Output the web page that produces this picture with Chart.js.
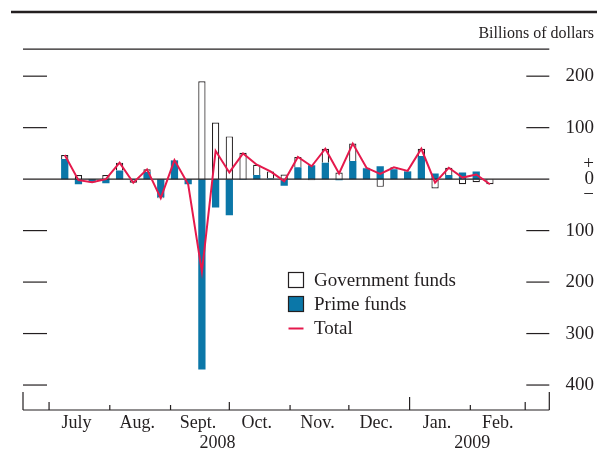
<!DOCTYPE html>
<html>
<head>
<meta charset="utf-8">
<script src="https://cdn.jsdelivr.net/npm/chart.js@4.4.1/dist/chart.umd.min.js"></script>
<style>
  html, body { margin:0; padding:0; background:#fff; }
  #wrap { width:597px; height:454px; position:relative; }
</style>
</head>
<body>
<div id="wrap"><canvas id="chart"></canvas></div>
<script>
// Weekly net flows into money market funds, billions of dollars

const weeks = [
  "2008-07-09","2008-07-16","2008-07-23","2008-07-30",
  "2008-08-06","2008-08-13","2008-08-20","2008-08-27",
  "2008-09-03","2008-09-10","2008-09-17","2008-09-24",
  "2008-10-01","2008-10-08","2008-10-15","2008-10-22","2008-10-29",
  "2008-11-05","2008-11-12","2008-11-19","2008-11-26",
  "2008-12-03","2008-12-10","2008-12-17","2008-12-24","2008-12-31",
  "2009-01-07","2009-01-14","2009-01-21","2009-01-28",
  "2009-02-04","2009-02-11"
];
const government = [8, 8, 0, 8, 15, -5, 5, -2, 1, 0, 190, 110, 83, 51, 20, 14, 9, 20, -2, 27, 13, 34, 1, -15, 4, 1, 14, -18, 14, -10, -6, -10];
const prime      = [39, -10, -6, -8, 17, -2, 14, -35, 36, -10, -370, -55, -70, -1, 8, 1, -13, 23, 27, 32, -2, 35, 21, 25, 19, 15, 45, 11, 8, 13, 15, 0];
const total      = [47, -2, -6, 0, 32, -7, 19, -37, 37, -10, -180, 55, 13, 50, 28, 15, -4, 43, 25, 59, 11, 69, 22, 10, 23, 16, 59, -7, 22, 3, 9, -10];

const monthStarts = ["2008-07-01","2008-08-01","2008-09-01","2008-10-01","2008-11-01","2008-12-01","2009-01-01","2009-02-01","2009-03-01"];
const monthTickLen = [8, 5, 5, 8, 5, 5, 13, 5, 8];
const monthMids = ["2008-07-15","2008-08-15","2008-09-15","2008-10-15","2008-11-15","2008-12-15","2009-01-15","2009-02-15"];
const monthLabels = ["July","Aug.","Sept.","Oct.","Nov.","Dec.","Jan.","Feb."];
const yearMarks = ["2008-09-25","2009-02-02"];
const yearLabels = ["2008","2009"];
const yTicks = [200, 100, 0, -100, -200, -300, -400];

const INK = "#231f20";
const BLUE = "#0b77a8";
const RED = "#e5194c";
const SERIF = "'Liberation Serif', 'Times New Roman', serif";

const T0 = Date.parse("2008-07-01");
function day(s){ return (Date.parse(s) - T0) / 864e5; }
const X_MIN = -13.3, X_MAX = 255.3;

function line(ctx, x1, y1, x2, y2){
  ctx.beginPath(); ctx.moveTo(x1, y1); ctx.lineTo(x2, y2); ctx.stroke();
}

const frame = {
  id: "frame",
  beforeDatasetsDraw(chart){
    const {ctx, chartArea: a, scales: {x, y}} = chart;
    ctx.save();
    ctx.strokeStyle = INK;
    ctx.lineWidth = 2.5;
    line(ctx, 11, 12, chart.width, 12);
    ctx.lineWidth = 1.2;
    line(ctx, a.left, a.top, a.right, a.top);
    yTicks.filter(v => v !== 0).forEach(v=>{
      const py = y.getPixelForValue(v);
      line(ctx, a.left, py, a.left + 24, py);
      line(ctx, a.right - 23, py, a.right, py);
    });
    line(ctx, a.left, a.bottom, a.right, a.bottom);
    line(ctx, a.left, a.bottom, a.left, a.bottom - 18);
    line(ctx, a.right, a.bottom, a.right, a.bottom - 18);
    monthStarts.forEach((d, i)=>{
      const px = x.getPixelForValue(day(d));
      line(ctx, px, a.bottom, px, a.bottom - monthTickLen[i]);
    });
    ctx.restore();
  },
  beforeDatasetDraw(chart, args){
    if (args.index !== 0) return; // zero line sits under the Total line
    const {ctx, chartArea: a, scales: {y}} = chart;
    const py = y.getPixelForValue(0);
    ctx.save();
    ctx.strokeStyle = INK;
    ctx.lineWidth = 1.4;
    line(ctx, a.left, py, a.right, py);
    ctx.restore();
  },
  afterDraw(chart){
    const ctx = chart.ctx;
    const ds = chart.data.datasets;
    const items = [ds[2], ds[1], ds[0]];
    ctx.save();
    ctx.font = "19px " + SERIF;
    ctx.textBaseline = "alphabetic";
    items.forEach((d, i)=>{
      const top = 272.5 + i * 24;
      if (d.type === "line"){
        ctx.strokeStyle = d.borderColor;
        ctx.lineWidth = 2;
        line(ctx, 288.5, top + 8, 303.5, top + 8);
      } else {
        ctx.fillStyle = d.backgroundColor;
        ctx.fillRect(288.5, top, 15, 15);
        ctx.strokeStyle = INK;
        ctx.lineWidth = 1.2;
        ctx.strokeRect(288.5, top, 15, 15);
      }
      ctx.fillStyle = INK;
      ctx.fillText(d.label, 314, top + 13.5);
    });
    ctx.restore();
  }
};

new Chart(document.getElementById("chart"), {
  type: "bar",
  data: {
    labels: weeks.map(day),
    datasets: [
      { type: "line", label: "Total", data: total, borderColor: RED, backgroundColor: RED,
        borderWidth: 2, pointRadius: 0, tension: 0, fill: false },
      { label: "Prime funds", data: prime, backgroundColor: BLUE, borderWidth: 0,
        barPercentage: 0.53, categoryPercentage: 1 },
      { label: "Government funds", data: government, backgroundColor: "#ffffff", borderColor: INK,
        borderWidth: 1.2, barPercentage: 0.53, categoryPercentage: 1 },
    ]
  },
  options: {
    responsive: true,
    maintainAspectRatio: false,
    animation: false,
    layout: { padding: { left: 23, right: 3, top: 0, bottom: 2 } },
    plugins: {
      legend: { display: false },
      tooltip: { enabled: false },
      title: {
        display: true, text: "Billions of dollars", align: "end", color: INK,
        font: { family: SERIF, size: 16, weight: "normal" },
        padding: { top: 24, bottom: 6 }
      }
    },
    scales: {
      x: {
        type: "linear", stacked: true, min: X_MIN, max: X_MAX, offset: false,
        grid: { display: false, drawTicks: false }, border: { display: false },
        afterBuildTicks: s => { s.ticks = monthMids.map(d => ({ value: day(d) })); },
        afterFit: s => { s.height = 22.4; },
        ticks: {
          autoSkip: false, maxRotation: 0, padding: 4.4, color: INK,
          font: { family: SERIF, size: 18, lineHeight: 1 },
          callback: (v, i) => monthLabels[i]
        }
      },
      x2: {
        type: "linear", position: "bottom", weight: 1, min: X_MIN, max: X_MAX, offset: false,
        grid: { display: false, drawTicks: false }, border: { display: false },
        afterBuildTicks: s => { s.ticks = yearMarks.map(d => ({ value: day(d) })); },
        afterFit: s => { s.height = 19.6; },
        ticks: {
          autoSkip: false, maxRotation: 0, padding: 1.5, color: INK,
          font: { family: SERIF, size: 18, lineHeight: 1 },
          callback: (v, i) => yearLabels[i]
        }
      },
      y: {
        position: "right", stacked: true, min: -448.5, max: 252.4,
        grid: { display: false, drawTicks: false }, border: { display: false },
        afterBuildTicks: s => { s.ticks = yTicks.map(v => ({ value: v })); },
        afterFit: s => { s.width = 44.7; },
        ticks: {
          padding: 16, crossAlign: "far", color: INK,
          font: { family: SERIF, size: 19, lineHeight: 0.82 },
          callback: v => v > 0 ? String(v) : v < 0 ? String(-v) : ["+", "0", "\u2212"]
        }
      }
    }
  },
  plugins: [frame]
});
</script>
</body>
</html>
